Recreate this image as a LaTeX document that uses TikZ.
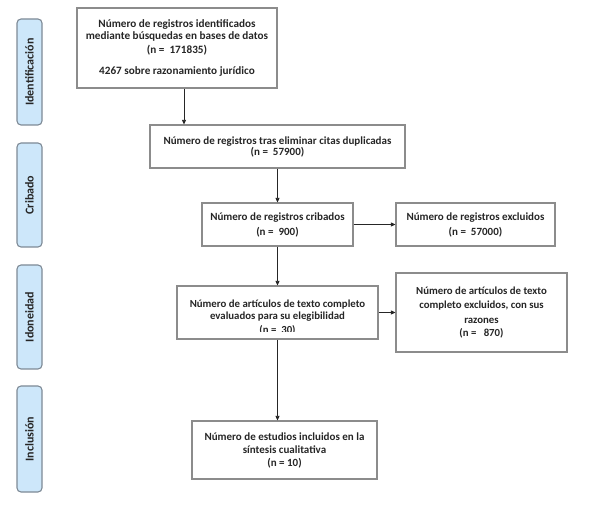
\documentclass[tikz,border=0pt]{standalone}
\usepackage{fontspec}
\setmainfont{Carlito}
\usetikzlibrary{arrows.meta}
\definecolor{boxline}{HTML}{8C8C8C}
\definecolor{sidefill}{HTML}{CDE7FA}
\definecolor{sideline}{HTML}{7E8A96}
\definecolor{txt}{HTML}{262626}
\tikzset{
  flowbox/.style={draw=boxline, line width=1.1pt, fill=white, rectangle, inner sep=0pt,
    align=center, text=txt, font=\bfseries\fontsize{11}{13}\selectfont},
  sidebox/.style={draw=sideline, line width=1.1pt, fill=sidefill, rounded corners=4pt,
    inner sep=0pt, minimum width=25pt, text=txt},
  conn/.style={draw=black!85, line width=0.8pt, -{Triangle[length=4.5pt,width=4pt]}}
}
\newcommand{\sidelab}[1]{\rotatebox{90}{\bfseries\fontsize{12}{13}\selectfont #1}}
\begin{document}
\begin{tikzpicture}[x=1pt,y=-1pt]
\useasboundingbox (0,0) rectangle (589,510);
% side labels
\node[sidebox, minimum height=106pt] (sid) at (29.5,72) {\sidelab{Identificación}};
\node[sidebox, minimum height=104pt] (scr) at (29.5,195) {\sidelab{Cribado}};
\node[sidebox, minimum height=104pt] (sel) at (29.5,317) {\sidelab{Idoneidad}};
\node[sidebox, minimum height=106pt] (sin) at (29.5,439) {\sidelab{Inclusión}};
% boxes
\node[flowbox, font=\bfseries\fontsize{11.2}{13}\selectfont, minimum width=200pt, minimum height=80pt] (b1) at (177,48)
  {Número de registros identificados\\[-0.5pt]mediante búsquedas en bases de datos\\[1pt](n =\ \ 171835)\\[7.5pt]4267 sobre razonamiento jurídico};
\node[flowbox, minimum width=255pt, minimum height=43pt] (b2) at (277.5,146.5)
  {Número de registros tras eliminar citas duplicadas\\[-2pt](n =\ \ 57900)};
\node[flowbox, minimum width=151pt, minimum height=43pt] (b3) at (277.5,224.5)
  {Número de registros cribados\\[2pt](n =\ \ 900)};
\node[flowbox, minimum width=159pt, minimum height=43pt] (b4) at (475.5,224.5)
  {Número de registros excluidos\\[2pt](n =\ \ 57000)};
\node[flowbox, minimum width=201pt, minimum height=53pt] (b5) at (277.5,312.5) {};
\begin{scope}
  \clip (177,286) rectangle (378,332);
  \node[align=center, text=txt, font=\bfseries\fontsize{10.8}{12.5}\selectfont, inner sep=0pt, anchor=north] (b5t) at (277.5,299.5)
    {Número de artículos de texto completo\\evaluados para su elegibilidad\\[1.5pt](n =\ \ 30)};
\end{scope}
\node[flowbox, font=\bfseries\fontsize{10.8}{13}\selectfont, minimum width=171pt, minimum height=79pt] (b6) at (481.5,312.5)
  {Número de artículos de texto\\[1.5pt]completo excluidos, con sus\\[1.5pt]razones\\(n =\ \ \ 870)};
\node[flowbox, minimum width=185pt, minimum height=58pt] (b7) at (284.5,450)
  {Número de estudios incluidos en la\\síntesis cualitativa\\(n = 10)};
% connectors
\draw[conn] ([xshift=7pt]b1.south) -- ([xshift=7pt]b1.south |- b2.north);
\draw[conn] (b2.south) -- (b3.north);
\draw[conn] (b3.east) -- (b4.west);
\draw[conn] (b3.south) -- (b5.north);
\draw[conn] (b5.east) -- (b6.west |- b5.east);
\draw[conn] (b5.south) -- (b5.south |- b7.north);
\end{tikzpicture}
\end{document}
